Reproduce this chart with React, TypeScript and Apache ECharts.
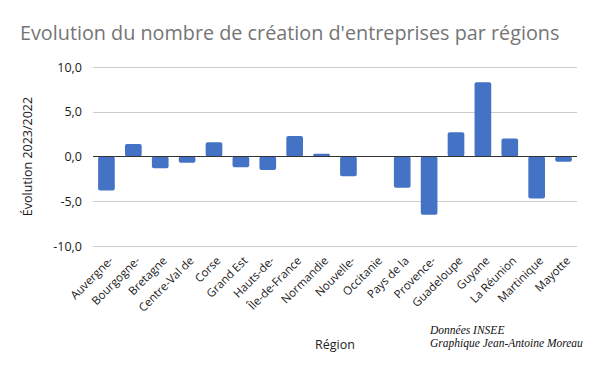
import React, { useEffect, useRef } from "react";
import * as echarts from "echarts";

const categories = [
  "Auvergne-", "Bourgogne-", "Bretagne", "Centre-Val de", "Corse", "Grand Est",
  "Hauts-de-", "Île-de-France", "Normandie", "Nouvelle-", "Occitanie", "Pays de la",
  "Provence-", "Guadeloupe", "Guyane", "La Réunion", "Martinique", "Mayotte",
];
const values = [-3.8, 1.4, -1.3, -0.7, 1.6, -1.2, -1.5, 2.3, 0.3, -2.2, 0, -3.5, -6.5, 2.7, 8.3, 2.0, -4.7, -0.6];
const title = "Evolution du nombre de création d'entreprises par régions";
const yName = "Évolution 2023/2022";
const xName = "Région";
const credits = ["Données INSEE", "Graphique Jean-Antoine Moreau"];

export default function App() {
  const ref = useRef<HTMLDivElement>(null);
  useEffect(() => {
    document.body.style.margin = "0";
    const chart = echarts.init(ref.current!, null, { renderer: "svg" });
    chart.setOption({
      animation: false,
      title: {
        text: title,
        left: 15,
        top: 17,
        textStyle: { fontFamily: "Open Sans", fontSize: 19.8, fontWeight: "normal", color: "#757575" },
      },
      grid: { left: 93, right: 23, top: 67, bottom: 125 },
      xAxis: {
        type: "category",
        data: categories,
        name: xName,
        nameLocation: "middle",
        nameGap: 92,
        nameTextStyle: { fontFamily: "Open Sans", fontSize: 12.5, color: "#222" },
        axisLine: { show: false },
        axisTick: { show: false },
        axisLabel: {
          interval: 0,
          rotate: 45,
          margin: 8,
          align: "right",
          verticalAlign: "top",
          fontFamily: "Open Sans",
          fontSize: 11.5,
          color: "#1a1a1a",
        },
      },
      yAxis: {
        type: "value",
        min: -10,
        max: 10,
        interval: 5,
        name: yName,
        nameLocation: "middle",
        nameGap: 59,
        nameTextStyle: { fontFamily: "Open Sans", fontSize: 12.5, color: "#1a1a1a" },
        axisLabel: {
          fontFamily: "Open Sans",
          fontSize: 12.5,
          color: "#1a1a1a",
          margin: 11,
          formatter: (v: number) => v.toFixed(1).replace(".", ","),
        },
        splitLine: { lineStyle: { color: "#cccccc" } },
        axisLine: { show: false },
      },
      series: [
        {
          type: "bar",
          data: values,
          barCategoryGap: "38%",
          itemStyle: { color: "#4472C4", borderRadius: 2 },
          markLine: {
            silent: true,
            symbol: "none",
            label: { show: false },
            lineStyle: { color: "#333", width: 1.2, type: "solid" },
            data: [{ yAxis: 0 }],
          },
        },
      ],
      graphic: [
        {
          type: "text",
          left: 430,
          top: 323,
          style: {
            text: credits.join("\n"),
            font: "italic 11.5px 'Liberation Serif'",
            fill: "#111",
            lineHeight: 13,
          },
        },
      ],
    });
    return () => chart.dispose();
  }, []);
  return <div ref={ref} style={{ width: 600, height: 371 }} />;
}
